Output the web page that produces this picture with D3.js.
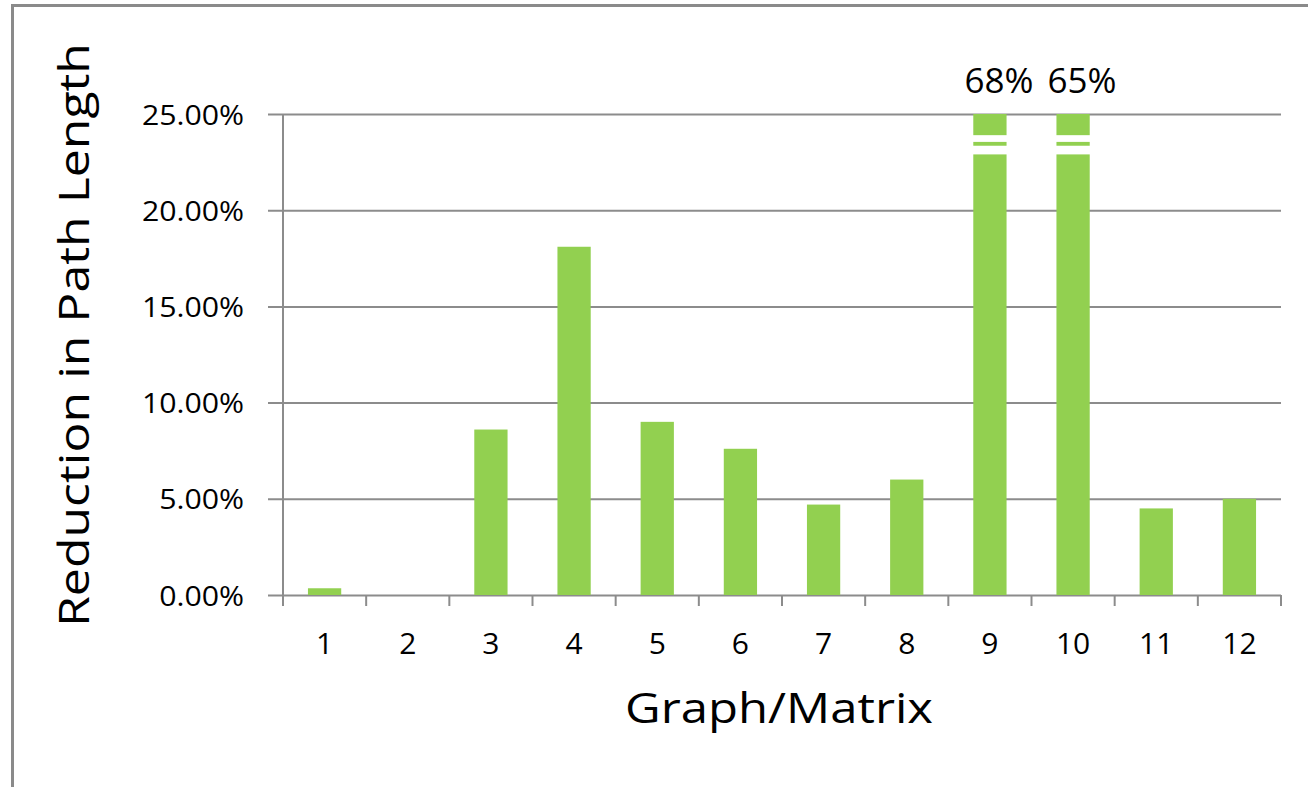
<!DOCTYPE html>
<html>
<head>
<meta charset="utf-8">
<script src="https://cdn.jsdelivr.net/npm/d3@7"></script>
<style>
  html, body { margin: 0; padding: 0; background: #fff; }
  svg { display: block; }
  text { font-family: "Open Sans", "DejaVu Sans", sans-serif; fill: #000; }
</style>
</head>
<body>
<svg id="chart" width="1308" height="787"></svg>
<script>
// Graph/matrix identifiers along the x axis
const categories = ["1", "2", "3", "4", "5", "6", "7", "8", "9", "10", "11", "12"];
// Reduction in path length, in percent
const reductions = [0.35, 0, 8.6, 18.1, 9.0, 7.6, 4.7, 6.0, 68, 65, 4.5, 5.0];
// Value-axis ticks (percent)
const yTicks = [0, 5, 10, 15, 20, 25];

const axisMax = 25;           // bars above this are cut with a break mark
const breakGap = [22.9, 23.9]; // white gap of the break mark (percent units)
const breakBar = [23.35, 23.55]; // thin green sliver inside the gap

const width = 1308, height = 787;
const plot = { left: 283, right: 1281, top: 114, bottom: 595 };
const barColor = "#92d050";
const gridColor = "#8c8c8c";

const svg = d3.select("#chart");

svg.append("rect").attr("width", width).attr("height", height).attr("fill", "#fff");

// Chart-area frame (only top and left edges show)
svg.append("path")
  .attr("d", `M12.5,${height} V5.5 H${width}`)
  .attr("fill", "none")
  .attr("stroke", "#8a8a8a")
  .attr("stroke-width", 3);

const x = d3.scaleBand()
  .domain(categories)
  .range([plot.left, plot.right])
  .paddingInner(0.6)
  .paddingOuter(0.3);

const y = d3.scaleLinear()
  .domain([0, axisMax])
  .range([plot.bottom, plot.top]);

// Stretch a text element horizontally by factor k
function stretch(sel, k) {
  sel.each(function () {
    const w = this.getComputedTextLength();
    d3.select(this).attr("textLength", w * k).attr("lengthAdjust", "spacingAndGlyphs");
  });
}

// Value axis with gridlines
const tickStart = 268;
const yAxis = svg.append("g")
  .attr("transform", `translate(${tickStart},0)`)
  .call(d3.axisLeft(y)
    .tickValues(yTicks)
    .tickSize(-(plot.right - tickStart))
    .tickPadding(24)
    .tickFormat(d => d.toFixed(2) + "%"));
yAxis.select(".domain").remove();
yAxis.selectAll(".tick line").attr("stroke", gridColor).attr("stroke-width", 2);
yAxis.selectAll(".tick text")
  .attr("font-size", 28)
  .attr("fill", "#000")
  .attr("dy", "0.36em");
stretch(yAxis.selectAll(".tick text"), 1.08);

// Vertical value-axis line
svg.append("line")
  .attr("x1", plot.left).attr("x2", plot.left)
  .attr("y1", plot.top).attr("y2", plot.bottom + 11)
  .attr("stroke", gridColor).attr("stroke-width", 2);

// Category boundary tick marks
const step = x.step();
const boundaries = d3.range(categories.length + 1).map(i => plot.left + i * step);
svg.append("g").selectAll("line")
  .data(boundaries)
  .join("line")
  .attr("x1", d => d).attr("x2", d => d)
  .attr("y1", plot.bottom).attr("y2", plot.bottom + 11)
  .attr("stroke", gridColor).attr("stroke-width", 2);

// Category labels
const xAxis = svg.append("g")
  .attr("transform", `translate(0,${plot.bottom})`)
  .call(d3.axisBottom(x).tickSize(0).tickPadding(38));
xAxis.select(".domain").remove();
xAxis.selectAll(".tick text")
  .attr("font-size", 30)
  .attr("fill", "#000")
  .attr("dy", "0.71em");

// Bars
svg.append("g").selectAll("rect")
  .data(reductions)
  .join("rect")
  .attr("x", (d, i) => x(categories[i]))
  .attr("width", x.bandwidth())
  .attr("y", d => y(Math.min(d, axisMax)))
  .attr("height", d => y(0) - y(Math.min(d, axisMax)))
  .attr("fill", barColor);

// Break marks on bars that exceed the axis
const broken = reductions.map((v, i) => ({ v, c: categories[i] })).filter(d => d.v > axisMax);
const brk = svg.append("g");
brk.selectAll("rect.gap")
  .data(broken)
  .join("rect")
  .attr("class", "gap")
  .attr("x", d => x(d.c) - 1)
  .attr("width", x.bandwidth() + 2)
  .attr("y", y(breakGap[1]))
  .attr("height", y(breakGap[0]) - y(breakGap[1]))
  .attr("fill", "#fff");
brk.selectAll("rect.sliver")
  .data(broken)
  .join("rect")
  .attr("class", "sliver")
  .attr("x", d => x(d.c))
  .attr("width", x.bandwidth())
  .attr("y", y(breakBar[1]))
  .attr("height", y(breakBar[0]) - y(breakBar[1]))
  .attr("fill", barColor);

// Actual values of the cut bars
svg.append("g").selectAll("text")
  .data(broken)
  .join("text")
  .attr("x", d => x(d.c) + x.bandwidth() / 2 + 9)
  .attr("y", 93)
  .attr("text-anchor", "middle")
  .attr("font-size", 35)
  .text(d => d.v + "%");

// Axis titles
svg.append("text")
  .attr("x", 779)
  .attr("y", 723)
  .attr("text-anchor", "middle")
  .attr("font-size", 42)
  .attr("textLength", 308)
  .attr("lengthAdjust", "spacingAndGlyphs")
  .text("Graph/Matrix");

svg.append("text")
  .attr("transform", "translate(89,335) rotate(-90)")
  .attr("text-anchor", "middle")
  .attr("font-size", 42)
  .attr("textLength", 584)
  .attr("lengthAdjust", "spacingAndGlyphs")
  .text("Reduction in Path Length");
</script>
</body>
</html>
